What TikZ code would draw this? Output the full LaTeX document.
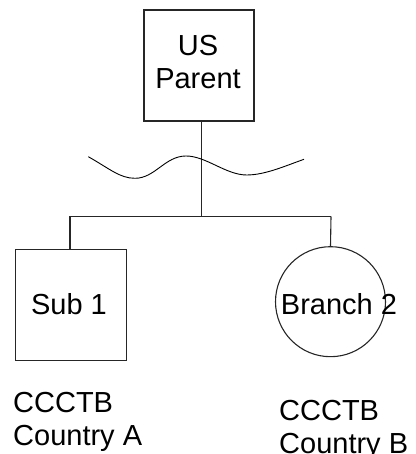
\documentclass[tikz,border=0pt]{standalone}
\usepackage{fontspec}
\setmainfont{Liberation Sans}
\begin{document}
\begin{tikzpicture}[x=1pt,y=1pt,
  line/.style={draw=black!85,line width=1.1pt},
  boxnode/.style={draw=black!85,line width=1.1pt,rectangle,minimum width=110pt,minimum height=111pt,inner sep=0pt},
  circnode/.style={draw=black!85,line width=1.1pt,circle,minimum size=110pt,inner sep=0pt},
  txt/.style={font=\fontsize{29}{33}\selectfont,inner sep=0pt},
]
\useasboundingbox (0,0) rectangle (415,454);
% parent box
\node[boxnode] (parent) at (199,388.5) {};
\node[txt,align=center] (parenttext) at (198,391.5) {US\\Parent};
% bus
\coordinate (trunktop) at (201.7,333);
\coordinate (busmid) at (201.7,237.5);
\coordinate (busleft) at (70,237.5);
\coordinate (busright) at (331,237.5);
% children
\node[boxnode,minimum width=111pt] (sub) at (71.2,148.7) {};
\node[txt] (subtext) at (69,150) {Sub 1};
\node[circnode] (branch) at (330.5,152.3) {};
\node[txt] (branchtext) at (339,150) {Branch 2};
\draw[line] (trunktop) -- (busmid);
\draw[line] (busleft) -- (busright);
\draw[line] (busleft) -- (busleft |- sub.north);
\draw[line] (busright) -- (branch.north);
% wave
\coordinate (w0) at (88.3,297.3);
\coordinate (w1) at (135,275.7);
\coordinate (w2) at (186,298);
\coordinate (w3) at (246.7,279);
\coordinate (w4) at (304,294.7);
\draw[black,line width=0.9pt] (w0) .. controls (110,285) and (120,275.7) .. (w1)
  .. controls (155,275.7) and (165,298) .. (w2)
  .. controls (206,298) and (226,279) .. (w3)
  .. controls (265,279) and (285,288) .. (w4);
% labels
\node[txt,align=left,anchor=north west] (labela) at (13,62) {CCCTB\\Country A};
\node[txt,align=left,anchor=north west] (labelb) at (279,54) {CCCTB\\Country B};
\end{tikzpicture}
\end{document}
